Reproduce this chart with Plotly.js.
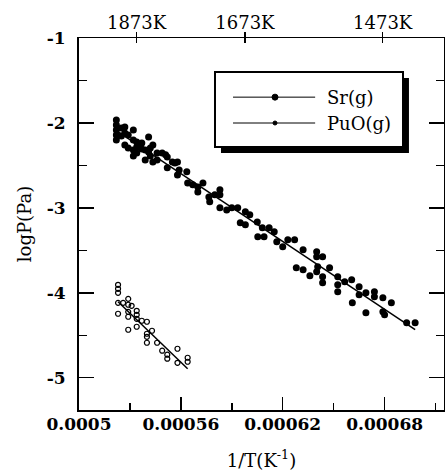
<!DOCTYPE html>
<html><head>
<script src="https://cdn.plot.ly/plotly-3.0.1.min.js"></script>
<style>body{margin:0;background:#fff}</style>
</head><body>
<div id="chart" style="width:445px;height:471px"></div>
<script>
// Sr(g) measured points
const srX = [0.000522,0.000522,0.000522,0.000522,0.000522,
 0.000525,0.000525,0.000527,0.000527,0.000527,0.000529,0.000529,
 0.000532,0.000532,0.000532,0.000532,0.000534,0.000534,0.000534,
 0.000537,0.000537,0.000539,0.000539,0.000541,0.000541,0.000542,0.000542,
 0.0005435,0.0005435,0.000546,0.000546,0.000549,0.000551,0.000552,0.000552,
 0.000555,0.0005565,0.000558,0.000558,0.000559,0.0005635,0.000564,0.000567,
 0.00057,0.00057,0.000573,0.0005765,0.000577,0.00058,0.000583,0.000583,0.000583,
 0.000587,0.00059,0.0005935,0.000595,0.000598,0.000598,0.0006006,0.000605,0.0006053,
 0.000608,0.000609,0.000612,0.000615,0.0006165,0.00062,0.000623,0.000627,0.000628,
 0.000632,0.000632,0.000636,0.00064,0.00064,0.00064,0.0006406,0.0006435,0.0006435,0.0006435,
 0.0006476,0.0006524,0.0006524,0.0006524,0.0006565,0.0006606,0.000661,0.000665,0.000665,
 0.000669,0.000669,0.000674,0.000674,0.000679,0.000679,0.00068,0.000684,0.000693,0.000698];
const srY = [-1.965,-2.024,-2.082,-2.141,-2.2,
 -2.059,-2.153,-2.047,-2.118,-2.259,-2.141,-2.294,
 -2.082,-2.2,-2.318,-2.388,-2.224,-2.282,-2.353,
 -2.235,-2.306,-2.318,-2.435,-2.165,-2.341,-2.294,-2.388,
 -2.259,-2.459,-2.353,-2.435,-2.353,-2.376,-2.4,-2.529,
 -2.459,-2.471,-2.459,-2.612,-2.553,-2.576,-2.706,-2.729,
 -2.753,-2.812,-2.706,-2.871,-2.929,-2.847,-2.788,-2.847,-3.0,
 -3.024,-3.0,-3.0,-3.176,-3.047,-3.2,-3.082,-3.165,-3.341,
 -3.235,-3.341,-3.235,-3.282,-3.4,-3.459,-3.376,-3.376,-3.706,
 -3.494,-3.729,-3.8,-3.518,-3.576,-3.753,-3.694,-3.576,-3.812,-3.882,
 -3.706,-3.812,-3.906,-3.988,-3.871,-3.847,-4.118,-3.929,-4.024,
 -4.0,-4.235,-3.988,-4.047,-4.059,-4.224,-4.259,-4.118,-4.353,-4.353];
// PuO(g) measured points
const puoX = [0.000523,0.000523,0.000523,0.000523,0.000523,0.000526,0.000529,0.000529,
 0.000531,0.000529,0.000529,0.000529,0.000534,0.000534,0.000534,0.000534,0.000537,
 0.00054,0.00054,0.00054,0.00054,0.000543,0.000546,0.000549,0.000552,0.000552,
 0.000558,0.000558,0.000564,0.000564];
const puoY = [-3.906,-3.953,-4.0,-4.118,-4.247,-4.118,-4.071,-4.141,
 -4.153,-4.224,-4.282,-4.435,-4.212,-4.259,-4.306,-4.4,-4.329,
 -4.341,-4.482,-4.518,-4.588,-4.447,-4.588,-4.682,-4.729,-4.776,
 -4.659,-4.824,-4.765,-4.812];
// fitted lines
const srFitX = [0.000522, 0.000698];
const srFitY = [-2.09, -4.435];
const puoFitX = [0.000523, 0.000564];
const puoFitY = [-4.106, -4.894];
// ticks
const xTickVals = [0.0005, 0.00056, 0.00062, 0.00068];
const xTickText = ['0.0005', '0.00056', '0.00062', '0.00068'];
const yTickVals = [-1, -2, -3, -4, -5];
const yTickText = ['-1', '-2', '-3', '-4', '-5'];
const topTempsK = [1873, 1673, 1473];
const topTickText = ['1873K', '1673K', '1473K'];
const legendNames = ['Sr(g)', 'PuO(g)'];

const topTickVals = topTempsK.map(t => 1 / t);
const xRange = [0.0005, 0.000715];
const yRange = [-5.38, -1];
const serif = 'DejaVu Serif, serif';

const traces = [
  {x: srX, y: srY, type: 'scatter', mode: 'markers', name: legendNames[0],
   marker: {symbol: 'circle', size: 7, color: '#000'}, showlegend: false},
  {x: srFitX, y: srFitY, type: 'scatter', mode: 'lines',
   line: {color: '#000', width: 1.5}, showlegend: false},
  {x: puoX, y: puoY, type: 'scatter', mode: 'markers', name: legendNames[1],
   marker: {symbol: 'circle-open', size: 5, color: '#000', line: {width: 1.2, color: '#000'}}, showlegend: false},
  {x: puoFitX, y: puoFitY, type: 'scatter', mode: 'lines',
   line: {color: '#000', width: 1.5}, showlegend: false}
];

// legend box geometry (paper coords)
const box = {x0: 0.3726, x1: 0.8877, y0: 0.707, y1: 0.9086};
const shadow = {x0: 0.389, x1: 0.904, y0: 0.691, y1: 0.8925};
const legLineX = [0.422, 0.647];
const legMarkX = 0.537;
const legRowY = [0.841, 0.7715];
const legTextX = 0.674;

const shapes = [
  {type: 'rect', xref: 'paper', yref: 'paper', x0: shadow.x0, x1: shadow.x1, y0: shadow.y0, y1: shadow.y1,
   fillcolor: '#000', line: {width: 0}},
  {type: 'rect', xref: 'paper', yref: 'paper', x0: box.x0, x1: box.x1, y0: box.y0, y1: box.y1,
   fillcolor: '#fff', line: {color: '#000', width: 2}},
  {type: 'line', xref: 'paper', yref: 'paper', x0: legLineX[0], x1: legLineX[1], y0: legRowY[0], y1: legRowY[0],
   line: {color: '#000', width: 1}},
  {type: 'line', xref: 'paper', yref: 'paper', x0: legLineX[0], x1: legLineX[1], y0: legRowY[1], y1: legRowY[1],
   line: {color: '#000', width: 1}},
  {type: 'circle', xref: 'paper', yref: 'paper', xsizemode: 'pixel', ysizemode: 'pixel',
   xanchor: legMarkX, yanchor: legRowY[0], x0: -3, x1: 3, y0: -3, y1: 3,
   fillcolor: '#000', line: {color: '#000', width: 1}},
  {type: 'circle', xref: 'paper', yref: 'paper', xsizemode: 'pixel', ysizemode: 'pixel',
   xanchor: legMarkX, yanchor: legRowY[1], x0: -2, x1: 2, y0: -2, y1: 2,
   fillcolor: '#000', line: {color: '#000', width: 1}}
];

const annotations = legendNames.map((n, i) => ({
  text: n, xref: 'paper', yref: 'paper', x: legTextX, y: legRowY[i],
  xanchor: 'left', yanchor: 'middle', showarrow: false,
  font: {family: serif, size: 18, color: '#000'}
}));

const layout = {
  width: 445, height: 471,
  margin: {l: 79, r: 1, t: 38, b: 61},
  paper_bgcolor: '#fff', plot_bgcolor: '#fff',
  showlegend: false,
  xaxis: {
    range: xRange, tickvals: xTickVals, ticktext: xTickText,
    ticks: 'inside', ticklen: 13, tickwidth: 1.5, tickcolor: '#000',
    minor: {tick0: 0.0005, dtick: 0.00003, ticks: 'inside', ticklen: 7, tickwidth: 1.5, tickcolor: '#000', showgrid: false},
    showline: true, linecolor: '#000', linewidth: 2, mirror: false,
    showgrid: false, zeroline: false,
    tickfont: {family: serif, size: 17, color: '#000', weight: 'bold'},
    ticklabelstandoff: -2,
    title: {text: '1/T(K<sup>-1</sup>)', font: {family: serif, size: 18, color: '#000'}, standoff: 21}
  },
  xaxis2: {
    overlaying: 'x', side: 'top', range: xRange,
    tickvals: topTickVals, ticktext: topTickText,
    ticks: 'inside', ticklen: 5, tickwidth: 1.5, tickcolor: '#000',
    showline: true, linecolor: '#000', linewidth: 1.5,
    showgrid: false, zeroline: false,
    tickfont: {family: serif, size: 18, color: '#000'}
  },
  xaxis3: {
    overlaying: 'x', side: 'top', range: xRange,
    tickvals: topTickVals,
    ticks: 'outside', ticklen: 5, tickwidth: 1.5, tickcolor: '#000',
    showticklabels: false, showline: false, showgrid: false, zeroline: false
  },
  yaxis: {
    range: yRange, tickvals: yTickVals, ticktext: yTickText,
    ticks: 'inside', ticklen: 15, tickwidth: 1.5, tickcolor: '#000',
    minor: {tick0: -1, dtick: 0.5, ticks: 'inside', ticklen: 8, tickwidth: 1.5, tickcolor: '#000', showgrid: false},
    showline: true, linecolor: '#000', linewidth: 2, mirror: 'ticks',
    showgrid: false, zeroline: false,
    tickfont: {family: serif, size: 17, color: '#000', weight: 'bold'},
    ticklabelstandoff: 8,
    title: {text: 'logP(Pa)', font: {family: serif, size: 18, color: '#000'}, standoff: 10}
  },
  shapes: shapes,
  annotations: annotations
};

// invisible anchor points so the top axes are drawn
traces.push({x: [xRange[0]], y: [yRange[0]], xaxis: 'x2', mode: 'markers', marker: {opacity: 0}, hoverinfo: 'skip', showlegend: false});
traces.push({x: [xRange[0]], y: [yRange[0]], xaxis: 'x3', mode: 'markers', marker: {opacity: 0}, hoverinfo: 'skip', showlegend: false});

Plotly.newPlot('chart', traces, layout, {displayModeBar: false, staticPlot: true});
</script>
</body></html>
